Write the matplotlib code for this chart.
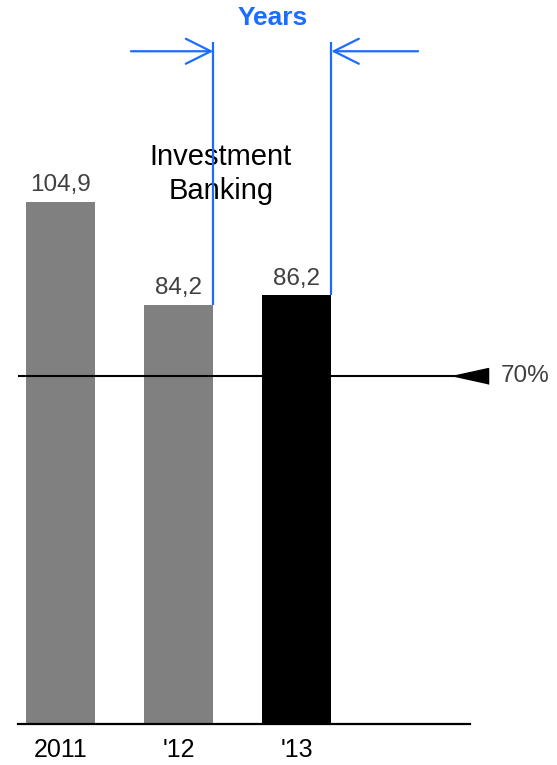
import numpy as np
from matplotlib import pyplot as plt

plt.rcParams['font.family'] = ['Liberation Sans', 'DejaVu Sans']

# data
years = ['2011', "'12", "'13"]
values = [104.9, 84.2, 86.2]
labels = ['104,9', '84,2', '86,2']
bar_colors = ['#808080', '#808080', '#000000']
target = 70
target_label = '70%'

blue = '#1a6dff'
width = 0.59

fig = plt.figure(figsize=(5.57, 7.65), dpi=100)
ax = fig.add_axes([18 / 557, 41 / 765, 452 / 557, 724 / 765])

x = np.arange(len(years))
rects = ax.bar(x, values, width, color=bar_colors, zorder=2)

ax.set_xlim(-0.36, 3.47)
ax.set_ylim(0, 145.5)

# value labels above bars
for rect, lab in zip(rects, labels):
    ax.annotate(lab, xy=(rect.get_x() + rect.get_width() / 2, rect.get_height()),
                xytext=(0, 4), textcoords='offset points',
                ha='center', va='bottom', fontsize=17.5, color='#404040')

# 70% line with triangle pointer
ax.axhline(target, color='black', linewidth=1.5, zorder=3)
tri = [(-1, 0), (1, 0.44), (1, -0.44)]
ax.plot([ax.get_xlim()[1]], [target], marker=tri, markersize=26, color='black',
        clip_on=False, zorder=4)
ax.annotate(target_label, xy=(ax.get_xlim()[1], target), xytext=(22, 0),
            textcoords='offset points', ha='left', va='center',
            fontsize=17.5, color='#404040', annotation_clip=False)

# years bracket
top = 137
arrow_y = 135.2
e12 = x[1] + width / 2
e13 = x[2] + width / 2
ax.vlines([e12, e13], [values[1], values[2]], top, color=blue, linewidth=1.6,
          zorder=5, clip_on=False)
ap = dict(arrowstyle='->,head_length=0.9,head_width=0.45', color=blue, lw=1.6,
          mutation_scale=20, shrinkA=0, shrinkB=0)
ax.annotate('', xy=(e12, arrow_y), xytext=(0.597, arrow_y), arrowprops=ap,
            annotation_clip=False)
ax.annotate('', xy=(e13, arrow_y), xytext=(3.03, arrow_y), arrowprops=ap,
            annotation_clip=False)
ax.text((e12 + e13) / 2, 141.9, 'Years', ha='center', va='center', fontsize=19,
        fontweight='bold', color=blue, clip_on=False)

ax.text(1.36, 110.5, 'Investment\nBanking', ha='center', va='center', fontsize=21,
        color='black', linespacing=1.3)

# axes styling
for s in ['top', 'right', 'left']:
    ax.spines[s].set_visible(False)
ax.spines['bottom'].set_linewidth(1.6)
ax.set_yticks([])
ax.set_xticks(x)
ax.set_xticklabels(years, fontsize=18)
ax.tick_params(axis='x', length=0, pad=10)

fig.savefig('out.png', dpi=100)
